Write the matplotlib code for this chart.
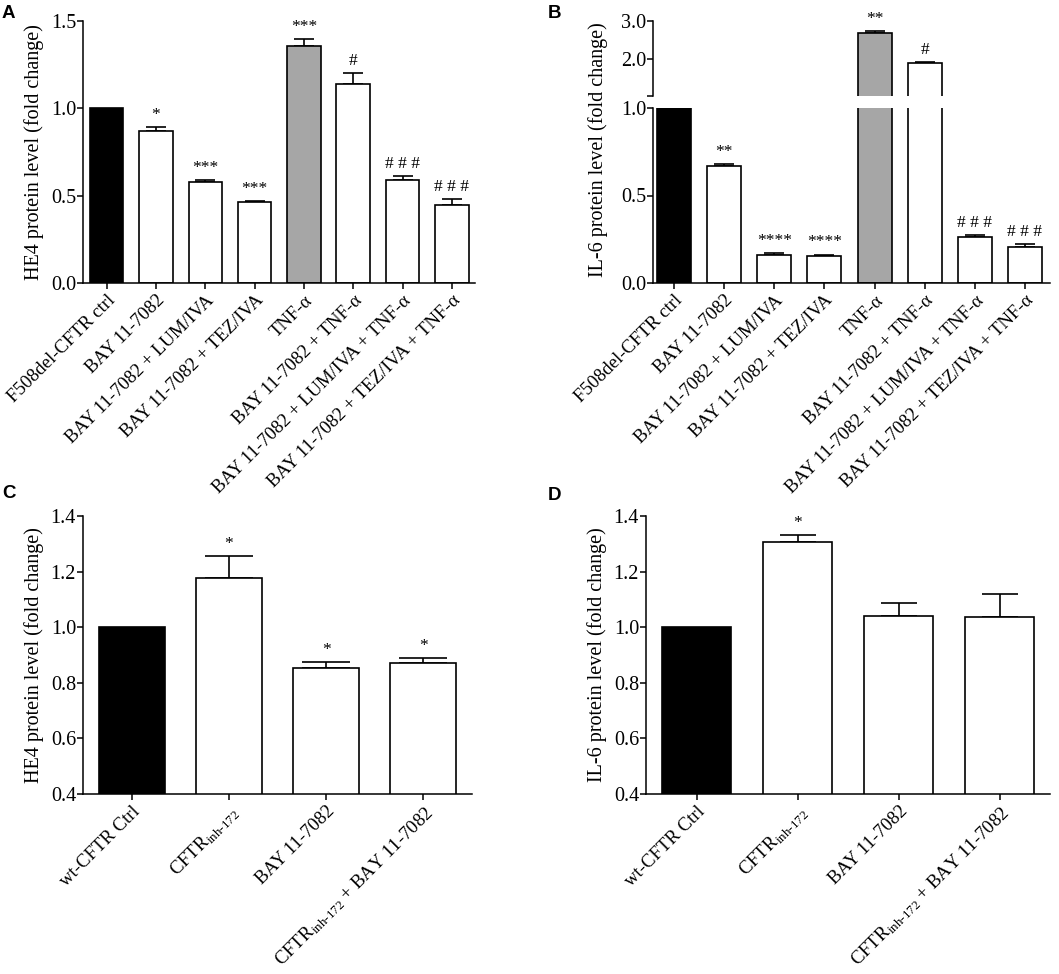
import matplotlib
matplotlib.use('Agg')
import matplotlib.pyplot as plt

plt.rcParams['font.family'] = ['Liberation Serif', 'DejaVu Serif']
plt.rcParams['mathtext.fontset'] = 'custom'
plt.rcParams['mathtext.rm'] = 'Liberation Serif'
plt.rcParams['mathtext.it'] = 'Liberation Serif:italic'
plt.rcParams['axes.linewidth'] = 1.1

# panel A / B categories
ab_labels = ['F508del-CFTR ctrl', 'BAY 11-7082', 'BAY 11-7082 + LUM/IVA',
             'BAY 11-7082 + TEZ/IVA', 'TNF-α', 'BAY 11-7082 + TNF-α',
             'BAY 11-7082 + LUM/IVA + TNF-α', 'BAY 11-7082 + TEZ/IVA + TNF-α']
ab_colors = ['black', 'white', 'white', 'white', '#a6a6a6', 'white', 'white', 'white']

he4_a = [1.0, 0.87, 0.58, 0.462, 1.358, 1.139, 0.588, 0.446]
he4_a_err = [0.0, 0.021, 0.01, 0.007, 0.04, 0.061, 0.023, 0.034]
he4_a_sig = ['', '*', '***', '***', '***', '#', '# # #', '# # #']

il6_b = [1.0, 0.666, 0.162, 0.153, 2.68, 1.87, 0.263, 0.208]
il6_b_err = [0.0, 0.015, 0.011, 0.009, 0.05, 0.037, 0.01, 0.013]
il6_b_sig = ['', '**', '****', '****', '**', '#', '# # #', '# # #']

# panel C / D categories
cd_labels = ['wt-CFTR Ctrl', r'CFTR$_{\mathrm{inh\text{-}172}}$', 'BAY 11-7082',
             r'CFTR$_{\mathrm{inh\text{-}172}}$ + BAY 11-7082']
cd_colors = ['black', 'white', 'white', 'white']

he4_c = [1.0, 1.176, 0.853, 0.87]
he4_c_err = [0.0, 0.079, 0.021, 0.018]
he4_c_sig = ['', '*', '*', '*']

il6_d = [1.0, 1.306, 1.04, 1.038]
il6_d_err = [0.0, 0.024, 0.046, 0.082]
il6_d_sig = ['', '*', '', '']

W, H = 1059, 974
fig = plt.figure(figsize=(W / 100, H / 100), dpi=100)


def px_axes(x0, y0, x1, y1):
    return fig.add_axes([x0 / W, 1 - y1 / H, (x1 - x0) / W, (y1 - y0) / H])


def style(ax, bottom=True):
    ax.spines['top'].set_visible(False)
    ax.spines['right'].set_visible(False)
    if not bottom:
        ax.spines['bottom'].set_visible(False)
    ax.tick_params(axis='y', direction='out', length=4, width=1.1, labelsize=14.5, pad=1)
    ax.tick_params(axis='x', direction='out', length=4.5, width=1.1, labelsize=13.5, pad=2)


def bars(ax, vals, errs, colors, capsize, keep=None, width=0.68):
    idx = [i for i in range(len(vals)) if keep is None or keep(vals[i])]
    ax.bar(idx, [vals[i] for i in idx], width=width, color=[colors[i] for i in idx],
           edgecolor='black', linewidth=1.2, zorder=2)
    eidx = [i for i in idx if errs[i] > 0]
    ax.errorbar(eidx, [vals[i] for i in eidx], yerr=[[0] * len(eidx), [errs[i] for i in eidx]],
                fmt='none', ecolor='black', elinewidth=1.2, capsize=capsize, capthick=1.2,
                zorder=1)


def sig(ax, vals, errs, marks, keep=None, size=12.5):
    for i, (v, e, m) in enumerate(zip(vals, errs, marks)):
        if m and (keep is None or keep(v)):
            ax.annotate(m, xy=(i, v + e), xytext=(0, 3), textcoords='offset points',
                        ha='center', va='bottom', fontsize=size, annotation_clip=False)


def xlabels(ax, labels):
    ax.set_xticks(range(len(labels)))
    ax.set_xticklabels(labels, rotation=45, ha='right', rotation_mode='anchor')


# ---- A
axA = px_axes(83, 21, 475, 283)
bars(axA, he4_a, he4_a_err, ab_colors, 7)
sig(axA, he4_a, he4_a_err, he4_a_sig)
axA.set_xlim(-0.48, 7.47)
axA.set_ylim(0, 1.5)
axA.set_yticks([0, 0.5, 1.0, 1.5])
axA.set_yticklabels(['0.0', '0.5', '1.0', '1.5'])
xlabels(axA, ab_labels)
axA.set_ylabel('HE4 protein level (fold change)', fontsize=14.5, labelpad=5)
style(axA)

# ---- B (broken axis: 0-1 below, 1-3 above)
axB = px_axes(653, 108, 1050, 283)
axB2 = px_axes(653, 21, 1050, 96)
bars(axB, il6_b, il6_b_err, ab_colors, 7)
bars(axB2, il6_b, il6_b_err, ab_colors, 7, keep=lambda v: v > 1)
for ax in (axB, axB2):
    ax.set_xlim(-0.42, 7.5)
axB.set_ylim(0, 1.0)
axB2.set_ylim(1.0, 3.0)
sig(axB, il6_b, il6_b_err, il6_b_sig, keep=lambda v: v <= 1)
sig(axB2, il6_b, il6_b_err, il6_b_sig, keep=lambda v: v > 1)
axB.set_yticks([0, 0.5, 1.0])
axB.set_yticklabels(['0.0', '0.5', '1.0'])
axB2.set_yticks([1.0, 2.0, 3.0])
axB2.set_yticklabels(['', '2.0', '3.0'])
xlabels(axB, ab_labels)
axB2.set_xticks([])
style(axB)
style(axB2, bottom=False)
fig.text(598 / W, 1 - 150 / H, 'IL-6 protein level (fold change)', rotation=90,
         ha='center', va='center', fontsize=14.5)

# ---- C
axC = px_axes(83, 516, 472, 794)
bars(axC, he4_c, he4_c_err, cd_colors, 17)
sig(axC, he4_c, he4_c_err, he4_c_sig)
axC.set_xlim(-0.5, 3.5)
axC.set_ylim(0.4, 1.4)
axC.set_yticks([0.4, 0.6, 0.8, 1.0, 1.2, 1.4])
axC.set_yticklabels(['0.4', '0.6', '0.8', '1.0', '1.2', '1.4'])
xlabels(axC, cd_labels)
axC.set_ylabel('HE4 protein level (fold change)', fontsize=14.5, labelpad=5)
style(axC)

# ---- D
axD = px_axes(646, 516, 1050, 794)
bars(axD, il6_d, il6_d_err, cd_colors, 13)
sig(axD, il6_d, il6_d_err, il6_d_sig)
axD.set_xlim(-0.5, 3.5)
axD.set_ylim(0.4, 1.4)
axD.set_yticks([0.4, 0.6, 0.8, 1.0, 1.2, 1.4])
axD.set_yticklabels(['0.4', '0.6', '0.8', '1.0', '1.2', '1.4'])
xlabels(axD, cd_labels)
axD.set_ylabel('IL-6 protein level (fold change)', fontsize=14.5, labelpad=5)
style(axD)

# panel letters
for lx, ly, letter in [(2, 18, 'A'), (548, 18, 'B'), (2, 498, 'C'), (548, 500, 'D')]:
    fig.text(lx / W, 1 - ly / H, letter, fontsize=13.5, fontweight='bold',
             family='Liberation Sans', ha='left', va='baseline')

fig.savefig('out.png', dpi=100)
